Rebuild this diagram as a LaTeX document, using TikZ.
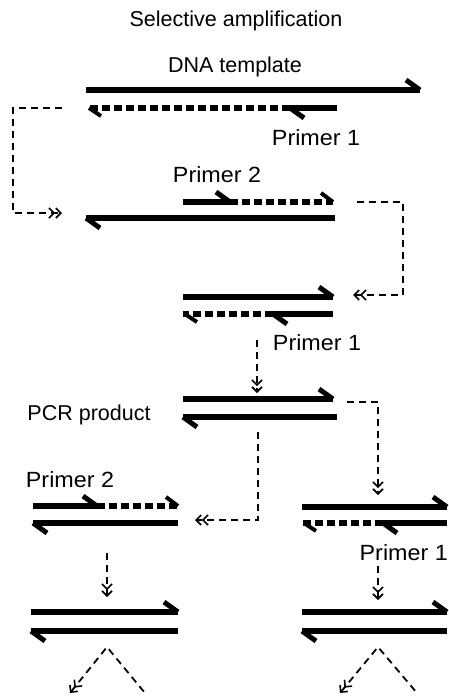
\documentclass[tikz,border=0pt]{standalone}
\usepackage{fontspec}
\setmainfont{Liberation Sans}
\newfontfamily\primerfont[FakeStretch=1.06]{Liberation Sans}
\usetikzlibrary{arrows.meta}
\tikzset{
  strand/.style={line width=6pt},
  barb/.style={line width=5pt},
  dstrand/.style={line width=6pt, dash pattern=on 8pt off 4pt},
  tip/.tip={Straight Barb[length=5pt,width=10pt,line width=1.6pt]},
  conn/.style={line width=1.8pt, dash pattern=on 7pt off 5pt, -{tip[]tip[]}},
  lbl/.style={anchor=base, inner sep=0pt, font=\fontsize{21.5}{25}\selectfont},
  plbl/.style={anchor=base, inner sep=0pt, font=\primerfont\fontsize{22}{26}\selectfont}
}
% solid strand with half-arrow at right end (barb up-left)
\newcommand\strR[3]{\draw[strand] (#1,#3) -- (#2,#3); \draw[barb] (#2,#3) -- ++(-14,-10);}
% solid strand with half-arrow at left end (barb down-right)
\newcommand\strL[3]{\draw[strand] (#1,#3) -- (#2,#3); \draw[barb] (#1,#3) -- ++(14,10);}
% dashed extension with barb at right end
\newcommand\dstrR[3]{\draw[dstrand] (#1,#3) -- (#2,#3); \draw[barb,line width=4pt] (#2,#3) -- ++(-12,-9);}
% dashed extension with barb at left end
\newcommand\dstrL[3]{\draw[dstrand] (#2,#3) -- (#1,#3); \draw[barb,line width=4pt] (#1+2,#3) -- ++(12,8);}
\begin{document}
\begin{tikzpicture}[x=1pt,y=-1pt]
\useasboundingbox (0,0) rectangle (449,696);
% labels
\node[lbl] (title) at (236,27) {Selective amplification};
\node[lbl] (dna) at (235,72) {DNA template};
\node[plbl] (p1a) at (316,145) {Primer 1};
\node[plbl] (p2a) at (217,182) {Primer 2};
\node[plbl] (p1b) at (317,350) {Primer 1};
\node[lbl] (pcr) at (89,420) {PCR product};
\node[plbl] (p2b) at (70,487) {Primer 2};
\node[plbl, anchor=base east] (p1c) at (448,560) {Primer 1};
% row 1
\strR{86}{420}{90}
\strL{290}{337}{108}
\dstrL{87}{290}{108}
% row 2
\strR{183}{230}{202}
\dstrR{230}{333}{202}
\strL{86}{335}{218}
% row 3
\strR{183}{333}{297}
\strL{273}{333}{314}
\dstrL{183}{273}{314}
% row 4 PCR product
\strR{183}{333}{399}
\strL{183}{337}{417}
% row 5 left
\strR{33}{97}{506}
\dstrR{97}{178}{506}
\strL{33}{178}{523}
% row 5 right
\strR{302}{447}{507}
\strL{383}{447}{523}
\dstrL{302}{383}{523}
% row 6
\strR{31}{178}{612}
\strL{31}{178}{631}
\strR{302}{447}{612}
\strL{302}{447}{631}
% connector coordinates
\coordinate (a1) at (62,108); \coordinate (a2) at (62,213);
\coordinate (b1) at (357,202); \coordinate (b2) at (353,295);
\coordinate (c1) at (257,340); \coordinate (c2) at (257,393);
\coordinate (d1) at (347,402); \coordinate (d2) at (378,495);
\coordinate (e1) at (258,432); \coordinate (e2) at (195,520);
\coordinate (f1) at (107,553); \coordinate (f2) at (107,597);
\coordinate (g1) at (378,566); \coordinate (g2) at (378,600);
\coordinate (h0) at (107,647); \coordinate (h1) at (70,693); \coordinate (h2) at (145,693);
\coordinate (i0) at (378,647); \coordinate (i1) at (340,693); \coordinate (i2) at (417,693);
% connectors
\draw[conn] (a1) -- (13,108) -- (13,213) -- (a2);
\draw[conn] (b1) -- (403,202) -- (403,295) -- (b2);
\draw[conn] (c1) -- (c2);
\draw[conn] (d1) -| (d2);
\draw[conn] (e1) |- (e2);
\draw[conn] (f1) -- (f2);
\draw[conn] (g1) -- (g2);
\draw[conn,{tip[]tip[]}-] (h1) -- (h0) -- (h2);
\draw[conn,{tip[]tip[]}-] (i1) -- (i0) -- (i2);
\end{tikzpicture}
\end{document}
